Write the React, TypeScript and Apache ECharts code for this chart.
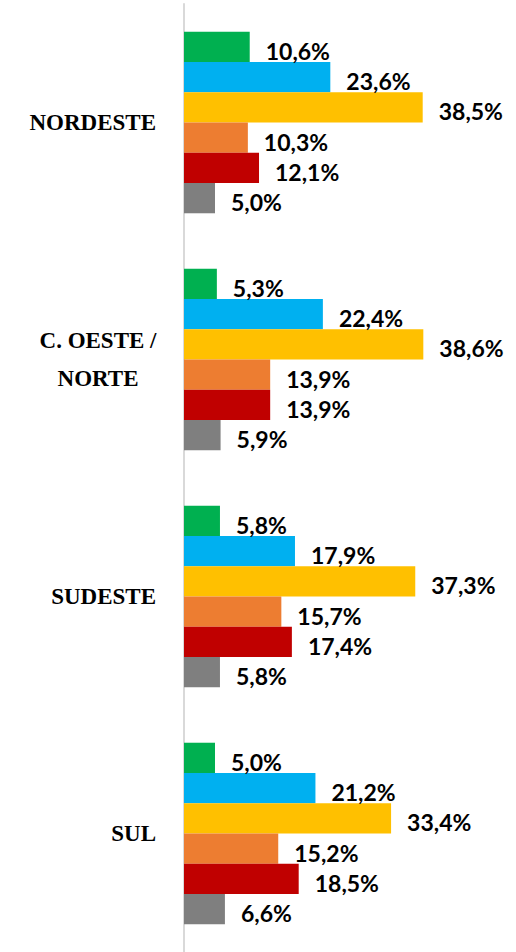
import React, { useEffect, useRef } from "react";
import * as echarts from "echarts";

const categories = ["NORDESTE", "C. OESTE /\nNORTE", "SUDESTE", "SUL"];
const seriesNames = ["Série 1", "Série 2", "Série 3", "Série 4", "Série 5", "Série 6"];
const seriesColors = ["#00B050", "#00B0F0", "#FFC000", "#ED7D31", "#C00000", "#7F7F7F"];
const serie1 = [10.6, 5.3, 5.8, 5.0];
const serie2 = [23.6, 22.4, 17.9, 21.2];
const serie3 = [38.5, 38.6, 37.3, 33.4];
const serie4 = [10.3, 13.9, 15.7, 15.2];
const serie5 = [12.1, 13.9, 17.4, 18.5];
const serie6 = [5.0, 5.9, 5.8, 6.6];
const seriesValues = [serie1, serie2, serie3, serie4, serie5, serie6];

export default function App() {
  const ref = useRef<HTMLDivElement>(null);
  useEffect(() => {
    document.body.style.margin = "0";
    const chart = echarts.init(ref.current!, null, { renderer: "svg" });
    const catFont = {
      color: "#000",
      fontFamily: "Liberation Serif",
      fontWeight: "bold" as const,
      fontSize: 23,
      lineHeight: 38,
    };
    chart.setOption({
      animation: false,
      grid: { left: 184, top: 4, width: 310, height: 950, containLabel: false },
      xAxis: {
        type: "value",
        min: 0,
        max: 50,
        show: false,
      },
      yAxis: {
        type: "category",
        data: categories,
        inverse: true,
        axisTick: { show: false },
        axisLine: { show: true, lineStyle: { color: "#D9D9D9", width: 2 } },
        axisLabel: {
          margin: 28,
          align: "right",
          ...catFont,
          formatter: (v: string) =>
            v.indexOf("\n") >= 0
              ? v
                  .split("\n")
                  .map((s) => "{c|" + s + "}")
                  .join("\n")
              : v,
          rich: {
            c: { ...catFont, width: 116, align: "center" },
          },
        },
      },
      series: seriesNames.map((name, i) => ({
        name,
        type: "bar",
        data: seriesValues[i],
        barGap: "0%",
        barCategoryGap: "23.4%",
        itemStyle: { color: seriesColors[i] },
        label: {
          show: true,
          position: "right",
          distance: 16,
          offset: [0, 4],
          color: "#000",
          fontFamily: "Lato",
          fontWeight: "bold",
          fontSize: 23,
          formatter: (p: any) => p.value.toFixed(1).replace(".", ",") + "%",
        },
      })),
    });
    return () => chart.dispose();
  }, []);
  return <div ref={ref} style={{ width: 516, height: 952 }} />;
}
